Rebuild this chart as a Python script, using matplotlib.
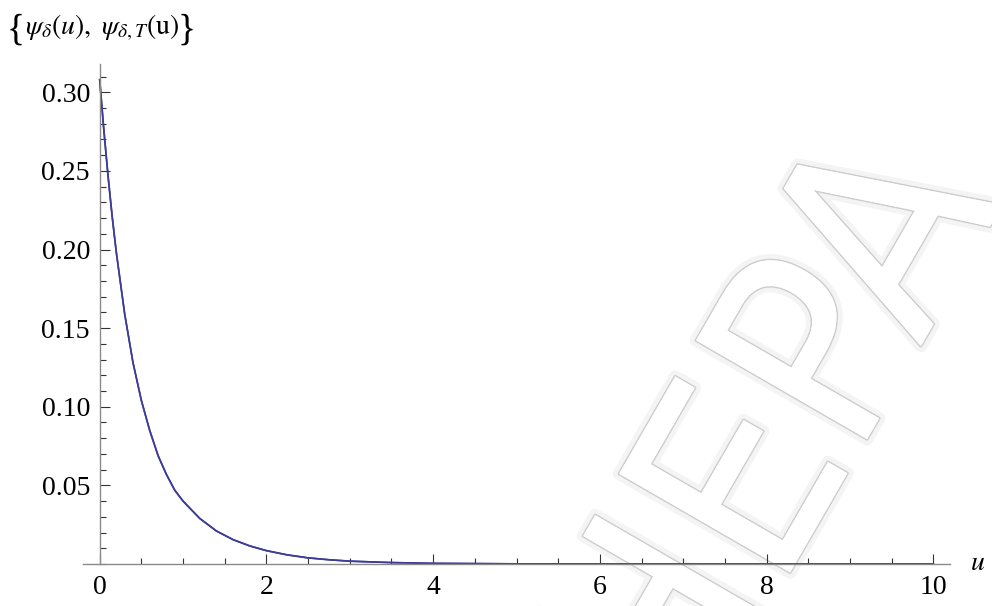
import matplotlib
matplotlib.use("Agg")
import matplotlib.pyplot as plt
import matplotlib.patheffects as pe
from matplotlib.ticker import MultipleLocator, FormatStrFormatter

# values (both curves lie on top of each other)
u = [0, 0.05, 0.1, 0.15, 0.2, 0.3, 0.4, 0.5, 0.6, 0.7, 0.8, 0.9, 1.0, 1.2, 1.4,
     1.6, 1.8, 2.0, 2.25, 2.5, 2.75, 3.0, 3.5, 4.0, 5.0, 6.0, 7.0, 8.0, 9.0,
     10.0]
psi_delta = [0.308, 0.276, 0.247, 0.221, 0.198, 0.159, 0.128, 0.104, 0.085,
             0.069, 0.057, 0.047, 0.040, 0.029, 0.021, 0.0155, 0.0115, 0.0085,
             0.0058, 0.0039, 0.0027, 0.0018, 0.0009, 0.0004, 0.0001, 0.00003,
             0, 0, 0, 0]
psi_delta_T = [0.308, 0.276, 0.247, 0.221, 0.198, 0.159, 0.128, 0.104, 0.085,
               0.069, 0.057, 0.047, 0.040, 0.029, 0.021, 0.0155, 0.0115,
               0.0085, 0.0058, 0.0039, 0.0027, 0.0018, 0.0009, 0.0004,
               0.0001, 0.00003, 0, 0, 0, 0]

plt.rcParams['mathtext.fontset'] = 'stix'
plt.rcParams['font.family'] = ['Liberation Serif', 'DejaVu Serif']

fig = plt.figure(figsize=(9.92, 6.06), dpi=100)
ax = fig.add_axes([83/992, 42/606, 867/992, 500/606])
ax.set_facecolor('none')

# faint watermark behind the plot
fig.text(780/992, 1 - 440/606, 'HEPA', rotation=60, ha='center', va='center',
         fontsize=195, family=['DejaVu Sans'], fontstretch='condensed',
         color='white', zorder=-5,
         path_effects=[pe.withStroke(linewidth=9, foreground='#f4f4f4'),
                       pe.withStroke(linewidth=2.2, foreground='#cdcdcd'),
                       pe.Normal()])

ax.plot(u, psi_delta_T, color=(0.24, 0.24, 0.6), lw=1.2)
ax.plot(u, psi_delta, color=(0.24, 0.24, 0.6), lw=1.2)

ax.set_xlim(-0.2, 10.2)
ax.set_ylim(0, 0.318)

for s in ['top', 'right']:
    ax.spines[s].set_visible(False)
ax.spines['left'].set_position(('data', 0))
ax.spines['bottom'].set_position(('data', 0))
for s in ['left', 'bottom']:
    ax.spines[s].set_color('#8a8a8a')
    ax.spines[s].set_linewidth(1.0)

ax.xaxis.set_major_locator(MultipleLocator(2))
ax.xaxis.set_minor_locator(MultipleLocator(0.5))
ax.yaxis.set_major_locator(MultipleLocator(0.05))
ax.yaxis.set_minor_locator(MultipleLocator(0.01))
ax.yaxis.set_major_formatter(FormatStrFormatter('%.2f'))

ax.tick_params(which='both', direction='in', color='#333333', width=0.8,
               labelsize=20)
ax.tick_params(which='major', length=7)
ax.tick_params(which='minor', length=4)
ax.tick_params(axis='y', pad=7)
ax.tick_params(axis='x', pad=8)
yt = ax.get_yticks()
ax.set_yticks([t for t in yt if 0.01 < t < 0.318])

# y label with tall braces like the original
fig.text(7/992, 1 - 30/606, '{', fontsize=27, ha='left', va='center')
fig.text(25/992, 1 - 28/606,
         r'$\psi_{\delta}(u),\ \psi_{\delta,T}(\mathrm{u})$',
         fontsize=20, ha='left', va='center')
fig.text(178/992, 1 - 30/606, '}', fontsize=27, ha='left', va='center')
fig.text(978/992, 1 - 563/606, r'$u$', fontsize=20, ha='center', va='center')

fig.savefig('out.png', dpi=100)
